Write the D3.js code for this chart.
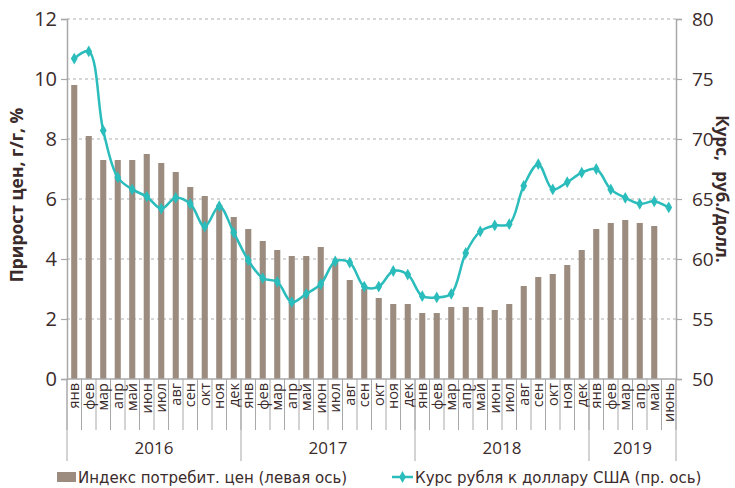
<!DOCTYPE html>
<html>
<head>
<meta charset="utf-8">
<script src="https://cdn.jsdelivr.net/npm/d3@7"></script>
<style>
  body { margin: 0; background: #fff; }
  text { font-family: "Open Sans", "DejaVu Sans", sans-serif; fill: #3b2b2b; }
</style>
</head>
<body>
<div id="chart"></div>
<script>
// Data
const years = ["2016", "2017", "2018", "2019"];
const monthNames = ["янв", "фев", "мар", "апр", "май", "июн", "июл", "авг", "сен", "окт", "ноя", "дек"];
const monthLabels2019 = ["янв", "фев", "мар", "апр", "май", "июнь"];

// CPI growth, y/y, %
const cpi = [
  9.8, 8.1, 7.3, 7.3, 7.3, 7.5, 7.2, 6.9, 6.4, 6.1, 5.8, 5.4,
  5.0, 4.6, 4.3, 4.1, 4.1, 4.4, 3.9, 3.3, 3.0, 2.7, 2.5, 2.5,
  2.2, 2.2, 2.4, 2.4, 2.4, 2.3, 2.5, 3.1, 3.4, 3.5, 3.8, 4.3,
  5.0, 5.2, 5.3, 5.2, 5.1, null
];

// RUB/USD rate
const rate = [
  76.7, 77.3, 70.7, 66.8, 65.8, 65.2, 64.2, 65.1, 64.6, 62.7, 64.4, 62.2,
  59.9, 58.4, 58.1, 56.4, 57.1, 57.9, 59.8, 59.7, 57.7, 57.7, 59.0, 58.7,
  56.9, 56.8, 57.1, 60.5, 62.3, 62.8, 62.9, 66.1, 67.9, 65.8, 66.4, 67.2,
  67.5, 65.8, 65.1, 64.6, 64.8, 64.3
];

const leftTicks = [0, 2, 4, 6, 8, 10, 12];
const rightTicks = [50, 55, 60, 65, 70, 75, 80];

// Build category list
const cats = [];
years.forEach(yr => {
  const names = yr === "2019" ? monthLabels2019 : monthNames;
  names.forEach((m, mi) => cats.push({key: yr + "-" + mi, year: yr, month: m}));
});
cats.forEach((c, i) => { c.cpi = cpi[i]; c.rate = rate[i]; });

// Layout
const W = 735, H = 488;
const margin = {top: 19, right: 59, bottom: 109, left: 67};
const width = W - margin.left - margin.right,
      height = H - margin.top - margin.bottom;

const barColor = "#9c8c80";
const lineColor = "#2bbcbc";
const axisColor = "#a8a8a8";

const x = d3.scaleBand()
  .domain(cats.map(d => d.key))
  .range([0, width])
  .paddingInner(0.58)
  .paddingOuter(0.29);

const yL = d3.scaleLinear().domain([0, 12]).range([height, 0]);
const yR = d3.scaleLinear().domain([50, 80]).range([height, 0]);

const svg = d3.select("#chart").append("svg")
  .attr("width", W)
  .attr("height", H);

const g = svg.append("g")
  .attr("transform", `translate(${margin.left},${margin.top})`);

// Grid
g.selectAll(".grid")
  .data(leftTicks.filter(d => d > 0))
  .enter().append("line")
    .attr("x1", 0)
    .attr("x2", width)
    .attr("y1", d => yL(d))
    .attr("y2", d => yL(d))
    .attr("stroke", "#b0b0b0")
    .attr("stroke-width", 1.2)
    .attr("stroke-dasharray", "3,3");

// Bars
g.selectAll(".bar")
  .data(cats.filter(d => d.cpi != null))
  .enter().append("rect")
    .attr("x", d => x(d.key))
    .attr("y", d => yL(d.cpi))
    .attr("width", x.bandwidth())
    .attr("height", d => height - yL(d.cpi))
    .attr("fill", barColor);

// Left axis
const leftAxis = g.append("g")
  .call(d3.axisLeft(yL).tickValues(leftTicks).tickSize(6).tickPadding(4));
leftAxis.select(".domain").attr("stroke", axisColor).attr("stroke-width", 1.5);
leftAxis.selectAll(".tick line").attr("stroke", axisColor).attr("stroke-width", 1.2);
leftAxis.selectAll(".tick text").style("font-size", "20px").attr("fill", "#3b2b2b");

// Right axis
const rightAxis = g.append("g")
  .attr("transform", `translate(${width},0)`)
  .call(d3.axisRight(yR).tickValues(rightTicks).tickSize(6).tickPadding(10));
rightAxis.select(".domain").attr("stroke", axisColor).attr("stroke-width", 1.5);
rightAxis.selectAll(".tick line").attr("stroke", axisColor).attr("stroke-width", 1.2);
rightAxis.selectAll(".tick text").style("font-size", "19px").attr("fill", "#3b2b2b");

// Bottom axis line
g.append("line")
  .attr("x1", 0).attr("x2", width)
  .attr("y1", height).attr("y2", height)
  .attr("stroke", axisColor)
  .attr("stroke-width", 1.5);

// Month separators
const step = x.step();
const x0 = x(cats[0].key) - x.paddingOuter() * step;
g.selectAll(".msep")
  .data(d3.range(cats.length + 1))
  .enter().append("line")
    .attr("x1", i => x0 + i * step)
    .attr("x2", i => x0 + i * step)
    .attr("y1", height)
    .attr("y2", height + 51)
    .attr("stroke", axisColor)
    .attr("stroke-width", 1);

// Month labels
g.selectAll(".mlabel")
  .data(cats)
  .enter().append("text")
    .attr("transform", d => `translate(${x(d.key) + x.bandwidth() / 2 + 5},${height + 4}) rotate(-90)`)
    .attr("text-anchor", "end")
    .style("font-size", "14.5px")
    .text(d => d.month);

// Year separators & labels
const yearStart = {};
cats.forEach((c, i) => { if (yearStart[c.year] === undefined) yearStart[c.year] = i; });
const yearCount = d3.rollup(cats, v => v.length, d => d.year);
const yearBounds = years.map(yr => ({
  year: yr,
  start: x0 + yearStart[yr] * step,
  end: x0 + (yearStart[yr] + yearCount.get(yr)) * step
}));

g.selectAll(".ysep")
  .data(d3.range(years.length + 1))
  .enter().append("line")
    .attr("x1", i => i < years.length ? yearBounds[i].start : yearBounds[years.length - 1].end)
    .attr("x2", i => i < years.length ? yearBounds[i].start : yearBounds[years.length - 1].end)
    .attr("y1", height)
    .attr("y2", height + 82)
    .attr("stroke", axisColor)
    .attr("stroke-width", 1);

g.selectAll(".ylabel")
  .data(yearBounds)
  .enter().append("text")
    .attr("x", d => (d.start + d.end) / 2)
    .attr("y", height + 75)
    .attr("text-anchor", "middle")
    .style("font-size", "17px")
    .text(d => d.year);

// Line
const line = d3.line()
  .x(d => x(d.key) + x.bandwidth() / 2)
  .y(d => yR(d.rate))
  .curve(d3.curveCatmullRom.alpha(0.5));

g.append("path")
  .datum(cats)
  .attr("fill", "none")
  .attr("stroke", lineColor)
  .attr("stroke-width", 2.5)
  .attr("d", line);

const diamond = d3.symbol().type(d3.symbolDiamond).size(40);
g.selectAll(".pt")
  .data(cats)
  .enter().append("path")
    .attr("transform", d => `translate(${x(d.key) + x.bandwidth() / 2},${yR(d.rate)})`)
    .attr("d", diamond)
    .attr("fill", lineColor);

// Axis titles
svg.append("text")
  .attr("transform", `translate(23,${margin.top + height / 2 - 4}) rotate(-90)`)
  .attr("text-anchor", "middle")
  .style("font-size", "17.5px")
  .style("font-weight", "bold")
  .text("Прирост цен, г/г, %");

svg.append("text")
  .attr("transform", `translate(722,${margin.top + height / 2 - 10}) rotate(90)`)
  .attr("text-anchor", "middle")
  .attr("dy", "0.35em")
  .style("font-size", "17px")
  .style("font-weight", "bold")
  .style("word-spacing", "6px")
  .text("Курс, руб./долл.");

// Legend
const legend = svg.append("g").attr("transform", "translate(0,477)");
legend.append("rect")
  .attr("x", 57).attr("y", -5)
  .attr("width", 19).attr("height", 10)
  .attr("fill", barColor);
legend.append("text")
  .attr("x", 78).attr("y", 6)
  .style("font-family", "'DejaVu Sans', sans-serif")
  .style("font-size", "15px")
  .text("Индекс потребит. цен (левая ось)");

legend.append("line")
  .attr("x1", 392).attr("x2", 413)
  .attr("y1", 0).attr("y2", 0)
  .attr("stroke", lineColor)
  .attr("stroke-width", 2.5);
legend.append("path")
  .attr("transform", "translate(402.5,0)")
  .attr("d", diamond)
  .attr("fill", lineColor);
legend.append("text")
  .attr("x", 415).attr("y", 6)
  .style("font-family", "'DejaVu Sans', sans-serif")
  .style("font-size", "15px")
  .text("Курс рубля к доллару США (пр. ось)");
</script>
</body>
</html>
